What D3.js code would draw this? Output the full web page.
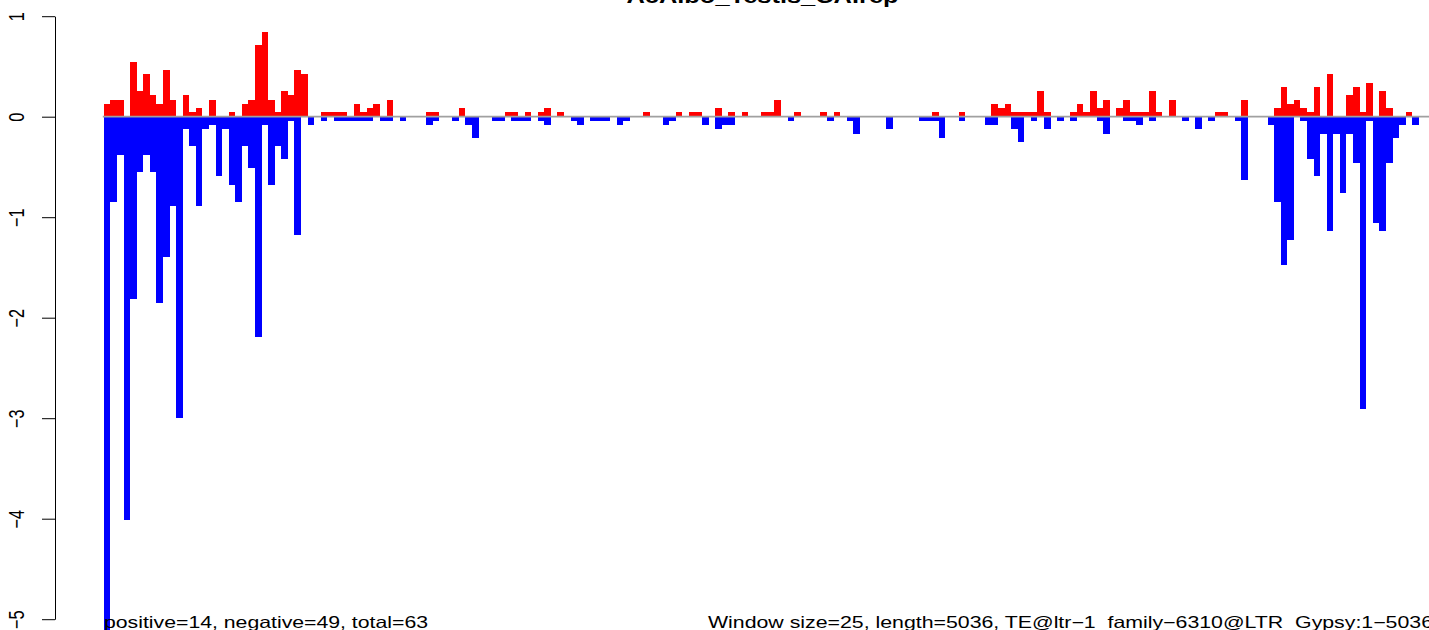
<!DOCTYPE html>
<html>
<head>
<meta charset="utf-8">
<script src="https://cdn.jsdelivr.net/npm/d3@7"></script>
<style>
  html, body { margin: 0; padding: 0; background: #ffffff; }
  svg { display: block; }
  text { font-family: "Liberation Sans", Arial, Helvetica, sans-serif; fill: #000; }
</style>
</head>
<body>
<svg id="chart" width="1429" height="630"></svg>
<script>
// ---------------- data ----------------
const chartTitle = "AcAlbo_Testis_CA.rep";
const leftNote = "positive=14, negative=49, total=63";
const rightNote = "Window size=25, length=5036, TE@ltr\u22121_family\u22126310@LTR_Gypsy:1\u22125036";
const yTicks = [-5, -4, -3, -2, -1, 0, 1];

// sense (positive) signal per 25-nt window
const posValues = [
  0.127, 0.169, 0.169, 0, 0.549, 0.253, 0.422, 0.211, 0.127, 0.464,
  0.169, 0, 0.211, 0.042, 0.084, 0, 0.169, 0, 0, 0.042,
  0, 0.127, 0.169, 0.717, 0.844, 0.169, 0.042, 0.253, 0.211, 0.464,
  0.422, 0, 0, 0.042, 0.042, 0.042, 0.042, 0, 0.127, 0.042,
  0.084, 0.127, 0, 0.169, 0, 0, 0, 0, 0, 0.042,
  0.042, 0, 0, 0, 0.084, 0, 0, 0, 0, 0,
  0, 0.042, 0.042, 0, 0.042, 0, 0.042, 0.084, 0, 0.042,
  0, 0, 0, 0, 0, 0, 0, 0, 0, 0,
  0, 0, 0.042, 0, 0, 0, 0, 0.042, 0, 0.042,
  0.042, 0, 0, 0.084, 0, 0.042, 0, 0.042, 0, 0,
  0.042, 0.042, 0.169, 0, 0, 0.042, 0, 0, 0, 0.042,
  0, 0.042, 0, 0, 0, 0, 0, 0, 0, 0,
  0, 0, 0, 0, 0, 0, 0.042, 0, 0, 0,
  0.042, 0, 0, 0, 0, 0.127, 0.084, 0.127, 0.042, 0.042,
  0.042, 0.042, 0.253, 0.042, 0, 0, 0, 0.042, 0.127, 0.042,
  0.253, 0.084, 0.169, 0, 0.084, 0.169, 0.042, 0.042, 0.042, 0.253,
  0.042, 0, 0.169, 0, 0, 0, 0, 0, 0, 0.042,
  0.042, 0, 0, 0.169, 0, 0, 0, 0, 0.084, 0.295,
  0.127, 0.169, 0.084, 0.042, 0.295, 0, 0.422, 0, 0, 0.211,
  0.295, 0.042, 0.338, 0, 0.253, 0.084, 0, 0, 0.042, 0
];

// antisense (negative) signal per 25-nt window
const negValues = [
  -5.3, -0.844, -0.380, -4.009, -1.815, -0.549, -0.380, -0.549, -1.857, -1.393,
  -0.886, -2.996, -0.127, -0.295, -0.886, -0.127, -0.084, -0.591, -0.127, -0.675,
  -0.844, -0.295, -0.506, -2.194, -0.084, -0.675, -0.295, -0.422, -0.042, -1.182,
  0, -0.084, 0, -0.042, 0, -0.042, -0.042, -0.042, -0.042, -0.042,
  -0.042, 0, -0.042, -0.042, 0, -0.042, 0, 0, 0, -0.084,
  -0.042, 0, 0, -0.042, 0, -0.084, -0.211, 0, 0, -0.042,
  -0.042, 0, -0.042, -0.042, -0.042, 0, -0.042, -0.084, 0, 0,
  0, -0.042, -0.084, 0, -0.042, -0.042, -0.042, 0, -0.084, -0.042,
  0, 0, 0, 0, 0, -0.084, -0.042, 0, 0, 0,
  0, -0.084, 0, -0.127, -0.084, -0.084, 0, 0, 0, 0,
  0, 0, 0, 0, -0.042, 0, 0, 0, 0, 0,
  -0.042, 0, 0, -0.042, -0.169, 0, 0, 0, 0, -0.127,
  0, 0, 0, 0, -0.042, -0.042, -0.042, -0.211, 0, 0,
  -0.042, 0, 0, 0, -0.084, -0.084, 0, 0, -0.127, -0.253,
  0, -0.042, 0, -0.127, 0, -0.042, 0, -0.042, 0, 0,
  0, -0.042, -0.169, 0, 0, -0.042, -0.042, -0.084, 0, -0.042,
  0, 0, 0, 0, -0.042, 0, -0.127, 0, -0.042, 0,
  0, 0, -0.042, -0.633, 0, 0, 0, -0.084, -0.844, -1.477,
  -1.224, 0, -0.042, -0.422, -0.591, -0.169, -1.139, -0.169, -0.760, -0.169,
  -0.464, -2.912, -0.042, -1.055, -1.139, -0.464, -0.211, -0.084, 0, -0.084
];

// ---------------- drawing ----------------
const W = 1429, H = 630;
const SX = 1.3;          // horizontal stretch of the original raster
const FS = 16.3;         // base font size
const barLeft = 103.8, barWidth = 6.575;
const axisX = 55;

const svg = d3.select("#chart");
const windows = d3.range(posValues.length);

const x = d3.scaleBand()
  .domain(windows)
  .range([barLeft, barLeft + barWidth * windows.length])
  .padding(0);

const y = d3.scaleLinear()
  .domain([-5, 1])
  .range([619.2, 16.2]);

const bars = svg.append("g").attr("shape-rendering", "crispEdges");

bars.selectAll("rect.pos")
  .data(posValues)
  .join("rect")
  .attr("class", "pos")
  .attr("x", (d, i) => x(i))
  .attr("width", x.bandwidth())
  .attr("y", d => y(d))
  .attr("height", d => y(0) - y(d))
  .attr("fill", "#ff0000");

bars.selectAll("rect.neg")
  .data(negValues)
  .join("rect")
  .attr("class", "neg")
  .attr("x", (d, i) => x(i))
  .attr("width", x.bandwidth())
  .attr("y", y(0))
  .attr("height", d => y(d) - y(0))
  .attr("fill", "#0000ff");

// zero line
svg.append("line")
  .attr("x1", barLeft - 1)
  .attr("x2", W + 10)
  .attr("y1", y(0))
  .attr("y2", y(0))
  .attr("stroke", "#a0a0a0")
  .attr("stroke-width", 1.8);

// y axis
const yAxis = d3.axisLeft(y)
  .tickValues(yTicks)
  .tickFormat(d3.format("d"))
  .tickSize(13)
  .tickSizeOuter(0)
  .tickPadding(0);

const ag = svg.append("g")
  .attr("transform", `translate(${axisX},0)`)
  .call(yAxis);
ag.select(".domain").attr("stroke", "#000").attr("stroke-width", 1);
ag.selectAll(".tick line").attr("stroke", "#000").attr("stroke-width", 1);
ag.selectAll(".tick text")
  .attr("x", null).attr("dy", null)
  .attr("text-anchor", "middle")
  .attr("font-size", FS)
  .attr("font-family", "'Liberation Sans', Arial, sans-serif")
  .attr("transform", `translate(${24 - axisX},0) scale(${SX},1) rotate(-90)`);

// title (cut by the top edge, as in the original)
svg.append("text")
  .attr("transform", `translate(762.5,3) scale(${SX},1)`)
  .attr("text-anchor", "middle")
  .attr("font-size", FS * 1.2)
  .attr("font-weight", "bold")
  .text(chartTitle);

// bottom notes
svg.append("text")
  .attr("transform", `translate(104,627.5) scale(${SX},1)`)
  .attr("text-anchor", "start")
  .attr("font-size", FS)
  .attr("textLength", (428 - 104) / SX)
  .attr("lengthAdjust", "spacingAndGlyphs")
  .text(leftNote);

svg.append("text")
  .attr("transform", `translate(708,627.5) scale(${SX},1)`)
  .attr("text-anchor", "start")
  .attr("font-size", FS)
  .attr("textLength", (1433 - 708) / SX)
  .attr("lengthAdjust", "spacingAndGlyphs")
  .text(rightNote);
</script>
</body>
</html>
